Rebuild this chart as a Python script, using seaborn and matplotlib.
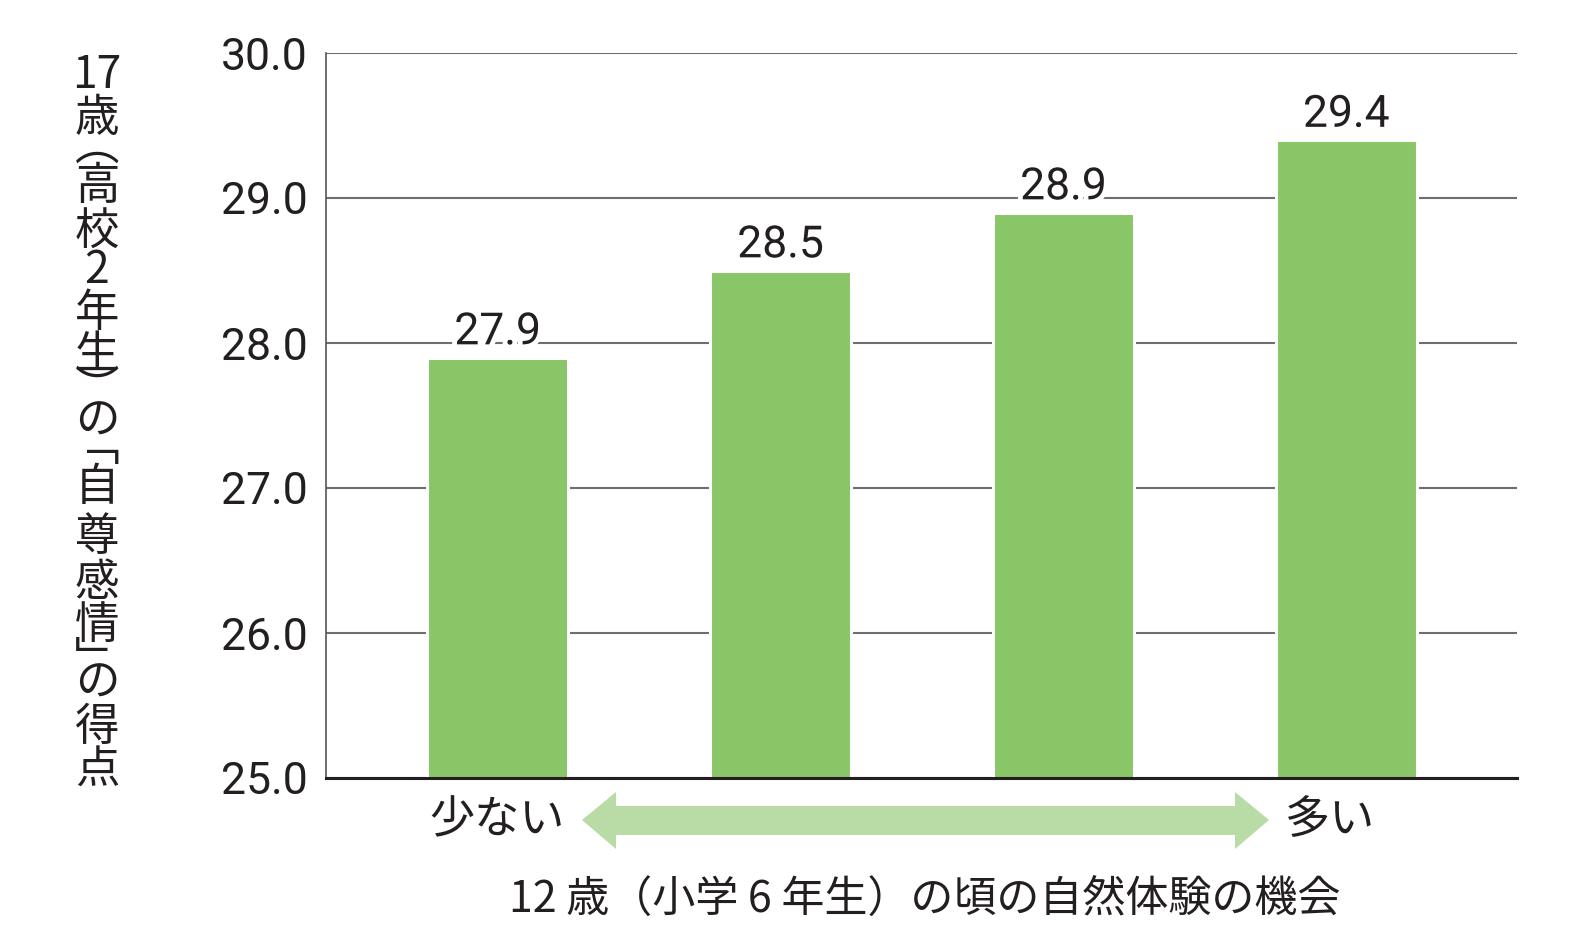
import numpy as np
import pandas as pd
import matplotlib
matplotlib.use("Agg")
import matplotlib.pyplot as plt
import seaborn as sns
from matplotlib.patches import Polygon
import matplotlib.patheffects as pe

# ---- data ----
categories = ["1", "2", "3", "4"]
values = [27.9, 28.5, 28.9, 29.4]
yticks = [25.0, 26.0, 27.0, 28.0, 29.0, 30.0]
ylabel_chars = ["17", "歳", "\ufe35", "高", "校", "2", "年", "生", "\ufe36", "の",
                "\ufe41", "自", "尊", "感", "情", "\ufe42", "の", "得", "点"]
xlabel = "12 歳（小学 6 年生）の頃の自然体験の機会"
left_text = "少ない"
right_text = "多い"

sns.set_theme(style="white")
CJK = "Noto Sans CJK JP"
NUM = "Roboto"
plt.rcParams["font.family"] = [CJK, "DejaVu Sans"]

TXT = "#231f20"
BAR = "#88c667"
ARROW = "#b9dba5"
GRID = "#6e6e6e"
W, H = 1588, 950

fig = plt.figure(figsize=(W / 100, H / 100), dpi=100)
fig.patch.set_facecolor("white")
ax = fig.add_axes([326 / W, 1 - 778 / H, (1517 - 326) / W, (778 - 53) / H])

df = pd.DataFrame({"cat": categories, "val": values})
sns.barplot(data=df, x="cat", y="val", color=BAR, saturation=1, width=0.5,
            edgecolor="white", linewidth=2.2, ax=ax, zorder=2)

ax.set_ylim(25, 30)
ax.set_xlim(-0.607, 3.603)
ax.set_yticks(yticks)
ax.set_yticklabels([f"{v:.1f}" for v in yticks], fontfamily=NUM, fontsize=32, color=TXT)
ax.set_xticks([])
ax.set_xlabel("")
ax.set_ylabel("")
ax.tick_params(axis="y", length=0, pad=13)
ax.set_axisbelow(True)
ax.yaxis.grid(True, color=GRID, linewidth=1.5)
ax.xaxis.grid(False)
for s in ["top", "right"]:
    ax.spines[s].set_visible(False)
ax.spines["left"].set_color("#555555")
ax.spines["left"].set_linewidth(1.2)
ax.spines["bottom"].set_color(TXT)
ax.spines["bottom"].set_linewidth(2.2)
ax.spines["bottom"].set_zorder(5)

labels = ax.bar_label(ax.containers[0], fmt="%.1f", padding=3, fontsize=32,
                      fontfamily=NUM, color=TXT)
for t in labels:
    t.set_path_effects([pe.withStroke(linewidth=7, foreground="white")])

# vertical y-axis label (one character per line, vertical writing)
ypos = [75, 118, 147, 186, 232, 270, 313, 355, 390, 421, 447, 487, 537, 583, 625, 661, 683, 727, 770]
for ch, yp in zip(ylabel_chars, ypos):
    fig.text(97 / W, 1 - yp / H, ch, ha="center", va="center", fontsize=32,
             color=TXT, family=[CJK, "DejaVu Sans"])

# double-headed arrow
pts_px = [(582, 820), (616, 792), (616, 806), (1235, 806), (1235, 792), (1269, 820),
          (1235, 849), (1235, 835), (616, 835), (616, 849)]
pts = [(x / W, 1 - y / H) for x, y in pts_px]
fig.patches.append(Polygon(pts, closed=True, transform=fig.transFigure,
                           facecolor=ARROW, edgecolor="none"))

fig.text(497 / W, 1 - 820 / H, left_text, ha="center", va="center", fontsize=32.5, color=TXT)
fig.text(1329 / W, 1 - 820 / H, right_text, ha="center", va="center", fontsize=32.5, color=TXT)
fig.text(925 / W, 1 - 900 / H, xlabel, ha="center", va="center", fontsize=31, color=TXT)

fig.savefig("out.png", dpi=100, facecolor="white")
